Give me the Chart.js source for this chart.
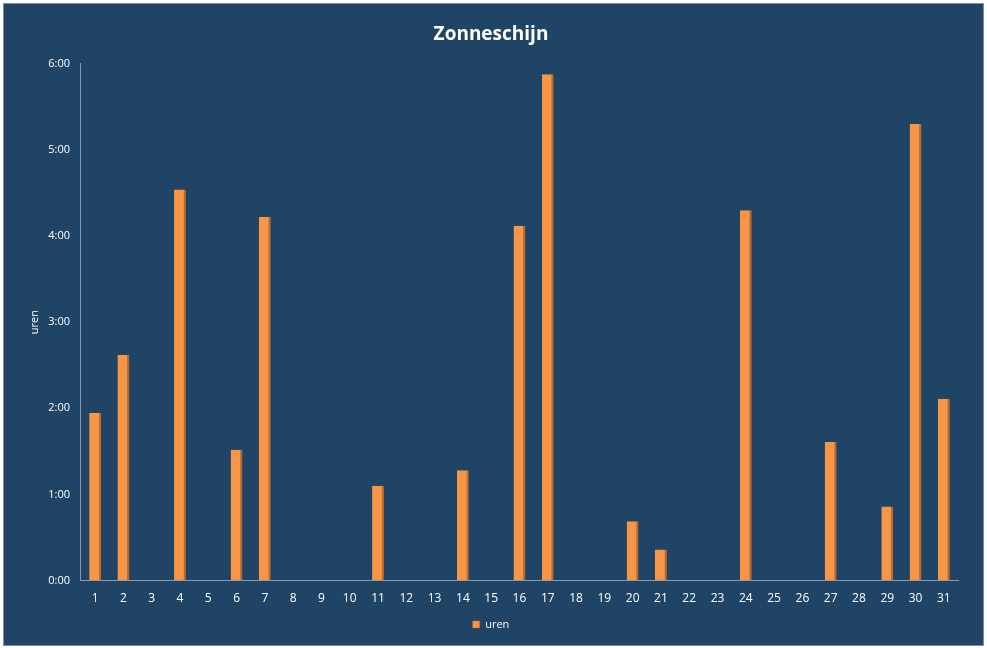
<!DOCTYPE html><html><head><script src="https://cdn.jsdelivr.net/npm/chart.js"></script>
<style>html,body{margin:0;background:#fff}#w{position:absolute;left:3px;top:3px;width:979px;height:641px;background:#1f4466;border:1px solid #7f8c99}</style></head><body>
<div id="w"><canvas id="c" width="979" height="641"></canvas></div>
<script>
const days = Array.from({length:31},(_,i)=>String(i+1));
const uren = [1.95,2.62,0,4.54,0,1.52,4.22,0,0,0,1.10,0,0,1.28,0,4.12,5.88,0,0,0.69,0.36,0,0,4.30,0,0,1.61,0,0.86,5.30,2.11];
const fmt = v => Math.floor(v)+':'+String(Math.round((v%1)*60)).padStart(2,'0');
new Chart(document.getElementById('c'),{type:'bar',
data:{labels:days,datasets:[{label:'uren',data:uren,backgroundColor:'#f79646',borderColor:'#c0692a',borderWidth:{left:0,right:2,top:0,bottom:0},barPercentage:0.42,categoryPercentage:1}]},
options:{responsive:false,animation:false,
layout:{padding:{left:20,right:25,top:5,bottom:5}},
plugins:{title:{display:true,text:'Zonneschijn',color:'#fff',font:{family:'Open Sans',size:19,weight:'bold'},padding:{top:14,bottom:18}},
legend:{position:'bottom',labels:{color:'#fff',boxWidth:7,boxHeight:7,font:{family:'Open Sans',size:11}}}},
scales:{x:{grid:{display:false},border:{color:'#8899aa'},ticks:{color:'#fff',font:{family:'Open Sans',size:12}}},
y:{min:0,max:6,grid:{display:false},border:{color:'#8899aa'},title:{display:true,text:'uren',color:'#fff',font:{family:'Open Sans',size:11}},ticks:{stepSize:1,color:'#fff',font:{family:'Open Sans',size:11},callback:v=>fmt(v)}}}}});
</script></body></html>
